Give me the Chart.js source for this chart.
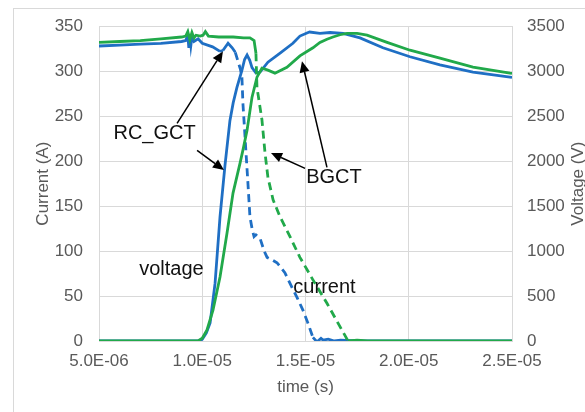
<!DOCTYPE html>
<html>
<head>
<meta charset="utf-8">
<script src="https://cdn.jsdelivr.net/npm/chart.js@4.4.1/dist/chart.umd.min.js"></script>
<style>
  html, body { margin: 0; padding: 0; background: #fff; overflow: hidden; }
  #wrap { position: relative; width: 585px; height: 412px; }
  #frame { position: absolute; left: 13px; top: 8px; width: 600px; height: 420px; border: 1px solid #d9d9d9; }
  #bpChart { position: absolute; left: 0; top: 0; }
</style>
</head>
<body>
<div id="wrap">
  <div id="frame"></div>
  <canvas id="bpChart" width="585" height="412"></canvas>
</div>
<script>
// times are in microseconds, axis labels show seconds
const rcCurrentTime = [5.0, 6.0, 7.0, 8.0, 9.0, 9.2, 9.3, 9.35, 9.4, 9.45, 9.5, 9.6, 9.8, 10.0, 10.5, 10.86, 11.0, 11.25, 11.45, 11.6, 11.73, 11.85, 11.92, 11.97, 12.05, 12.12, 12.2, 12.31, 12.42, 12.51, 12.6, 12.8, 13.0, 13.14, 13.4, 13.62, 14.0, 14.25, 14.6, 14.88, 15.1, 15.36, 15.56, 15.75, 15.85, 16.1, 16.4, 16.7, 17.5, 20, 22.5, 25];
const rcCurrent = [328, 329, 330, 331, 333, 334, 340, 326, 341, 329, 338, 333, 336, 331, 327, 322, 323, 331, 326, 321, 311, 302, 294, 264, 235, 209, 180, 138, 124, 116, 118, 114, 100, 93, 90, 87, 76, 64, 48, 34, 21, 4, -1, 3, 1, 2, 0, 1, 0, 0, 0, 0];

const rcVoltageTime = [5, 7, 9, 9.9, 10.0, 10.2, 10.38, 10.62, 10.86, 11.1, 11.34, 11.5, 11.68, 11.92, 12.05, 12.17, 12.3, 12.41, 12.6, 12.8, 13.18, 13.77, 14.39, 14.73, 15.07, 15.2, 15.7, 16.19, 16.82, 17.64, 18.75, 20.06, 21.51, 23.11, 25];
const rcVoltage = [0, 0, 0, 0, 20, 90, 200, 640, 1380, 1950, 2450, 2650, 2820, 3010, 3130, 3180, 3120, 3040, 2980, 2990, 3100, 3200, 3310, 3390, 3425, 3435, 3420, 3430, 3420, 3370, 3260, 3160, 3070, 2990, 2930];

const bgCurrentTime = [5, 6, 7, 8, 9, 9.2, 9.3, 9.4, 9.5, 9.6, 9.7, 9.9, 10.04, 10.15, 10.3, 10.8, 11.5, 12.0, 12.31, 12.51, 12.6, 12.65, 12.89, 13.04, 13.18, 13.43, 13.77, 14.25, 14.73, 15.36, 16.04, 16.67, 17.06, 17.5, 18, 20, 22.5, 25];
const bgCurrent = [332, 333, 334, 336, 338, 339, 344, 335, 343, 337, 340, 339, 340, 344, 339, 338, 338, 337, 337, 334, 320, 282, 246, 209, 182, 157, 138, 116, 93, 68, 42, 16, 0, 1, 0, 0, 0, 0];

const bgVoltageTime = [5, 7, 9, 9.79, 10.0, 10.23, 10.52, 10.86, 11.2, 11.49, 11.83, 11.97, 12.17, 12.41, 12.65, 12.89, 13.18, 13.52, 14.1, 14.73, 15.36, 15.7, 16.04, 16.33, 16.67, 17.01, 17.5, 17.98, 18.95, 20.06, 21.51, 23.11, 24.9, 25];
const bgVoltage = [0, 0, 0, 0, 30, 122, 344, 711, 1200, 1644, 1978, 2122, 2344, 2711, 2933, 3033, 3011, 2978, 3044, 3170, 3260, 3320, 3355, 3380, 3405, 3420, 3420, 3400, 3320, 3233, 3144, 3044, 2978, 2975];

const timeTicks = [5, 10, 15, 20, 25];
const currentTicks = [0, 50, 100, 150, 200, 250, 300, 350];
const voltageTicks = [0, 500, 1000, 1500, 2000, 2500, 3000, 3500];

// callouts, positions in (time us, current A)
const noteLabels = ["RC_GCT", "BGCT", "voltage", "current"];
const noteTime = [7.69, 16.38, 8.51, 15.92];
const noteCurrent = [231, 182, 79, 59];
const arrowFrom = [[8.78, 242], [9.75, 212], [14.98, 192], [16.04, 193]];
const arrowTo = [[11.0, 322], [11.05, 190], [13.33, 209], [14.83, 311]];

const BLUE = "#1f6fc4";
const GREEN = "#21a94a";
const FONT = "'Liberation Sans', Arial, sans-serif";

function pts(ts, vs) {
    return ts.map((t, i) => ({ x: t, y: vs[i] }));
}

function sciLabel(us) {
    const v = us * 1e-6;
    const e = Math.floor(Math.log10(v) + 1e-9);
    const m = v / Math.pow(10, e);
    return m.toFixed(1) + "E-" + String(-e).padStart(2, "0");
}

// current traces look solid on the flat parts, dashed while falling
function fallDash(ctx) {
    const a = ctx.p0.parsed.y, b = ctx.p1.parsed.y;
    const hi = Math.max(a, b);
    return (hi < 325 && hi > 5) ? [8, 5] : [];
}

const notesPlugin = {
    id: "notes",
    afterDatasetsDraw(chart) {
        const { ctx, scales } = chart;
        const px = t => scales.x.getPixelForValue(t);
        const py = a => scales.y.getPixelForValue(a);
        ctx.save();
        ctx.strokeStyle = "#000";
        ctx.fillStyle = "#000";
        ctx.lineWidth = 1.5;
        arrowFrom.forEach((f, i) => {
            const x0 = px(f[0]), y0 = py(f[1]);
            const x1 = px(arrowTo[i][0]), y1 = py(arrowTo[i][1]);
            const ang = Math.atan2(y1 - y0, x1 - x0);
            const hl = 11, hw = 5;
            const bx = x1 - hl * Math.cos(ang), by = y1 - hl * Math.sin(ang);
            ctx.beginPath();
            ctx.moveTo(x0, y0);
            ctx.lineTo(bx, by);
            ctx.stroke();
            ctx.beginPath();
            ctx.moveTo(x1, y1);
            ctx.lineTo(bx + hw * Math.sin(ang), by - hw * Math.cos(ang));
            ctx.lineTo(bx - hw * Math.sin(ang), by + hw * Math.cos(ang));
            ctx.closePath();
            ctx.fill();
        });
        ctx.font = "20px " + FONT;
        ctx.fillStyle = "#111";
        ctx.textAlign = "center";
        ctx.textBaseline = "middle";
        noteLabels.forEach((txt, i) => {
            ctx.fillText(txt, px(noteTime[i]), py(noteCurrent[i]));
        });
        // right axis title reads bottom to top
        const area = chart.chartArea;
        ctx.font = "17px " + FONT;
        ctx.fillStyle = "#595959";
        ctx.translate(578, (area.top + area.bottom) / 2);
        ctx.rotate(-Math.PI / 2);
        ctx.fillText("Voltage (V)", 0, 0);
        ctx.restore();
    }
};

const canvas = document.getElementById("bpChart");

new Chart(canvas, {
    type: "line",
    data: {
        datasets: [
            {
                label: "BGCT current",
                data: pts(bgCurrentTime, bgCurrent),
                yAxisID: "y",
                borderColor: GREEN,
                borderWidth: 2.8,
                segment: { borderDash: fallDash }
            },
            {
                label: "BGCT voltage",
                data: pts(bgVoltageTime, bgVoltage),
                yAxisID: "y1",
                borderColor: GREEN,
                borderWidth: 2.8
            },
            {
                label: "RC_GCT current",
                data: pts(rcCurrentTime, rcCurrent),
                yAxisID: "y",
                borderColor: BLUE,
                borderWidth: 2.8,
                segment: { borderDash: fallDash }
            },
            {
                label: "RC_GCT voltage",
                data: pts(rcVoltageTime, rcVoltage),
                yAxisID: "y1",
                borderColor: BLUE,
                borderWidth: 2.8
            }
        ]
    },
    options: {
        responsive: false,
        animation: false,
        parsing: false,
        layout: { padding: { top: 26, left: 0, right: 0, bottom: 0 } },
        elements: { point: { radius: 0 }, line: { tension: 0, borderCapStyle: "butt" } },
        plugins: { legend: { display: false }, tooltip: { enabled: false } },
        scales: {
            x: {
                type: "linear",
                min: timeTicks[0],
                max: timeTicks[timeTicks.length - 1],
                afterBuildTicks: s => { s.ticks = timeTicks.map(v => ({ value: v })); },
                afterFit: s => { s.height = 71; },
                grid: { color: "#d9d9d9", drawTicks: false },
                border: { color: "#d9d9d9" },
                ticks: {
                    padding: 10,
                    color: "#595959",
                    font: { family: FONT, size: 17 },
                    callback: v => sciLabel(v),
                    maxRotation: 0
                },
                title: {
                    display: true,
                    text: "time (s)",
                    color: "#595959",
                    font: { family: FONT, size: 17 },
                    padding: { top: 4, bottom: 14 }
                }
            },
            y: {
                position: "left",
                min: 0,
                max: 350,
                afterBuildTicks: s => { s.ticks = currentTicks.map(v => ({ value: v })); },
                afterFit: s => { s.width = 99; },
                grid: { color: "#d9d9d9", drawTicks: false },
                border: { color: "#d9d9d9" },
                ticks: { padding: 16, color: "#595959", font: { family: FONT, size: 17 }, callback: v => String(v) },
                title: {
                    display: true,
                    text: "Current (A)",
                    color: "#595959",
                    font: { family: FONT, size: 17 },
                    padding: { top: 33, bottom: 0 }
                }
            },
            y1: {
                position: "right",
                min: 0,
                max: 3500,
                afterBuildTicks: s => { s.ticks = voltageTicks.map(v => ({ value: v })); },
                afterFit: s => { s.width = 73; },
                grid: { display: false, drawTicks: false },
                border: { color: "#d9d9d9" },
                ticks: { padding: 15, color: "#595959", font: { family: FONT, size: 17 }, callback: v => String(v) }
            }
        }
    },
    plugins: [notesPlugin]
});
</script>
</body>
</html>
